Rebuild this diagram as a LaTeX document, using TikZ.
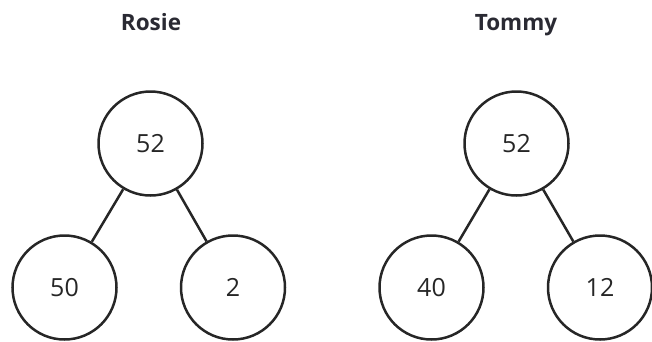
\documentclass[tikz,border=0pt]{standalone}
\usepackage{fontspec}
\setmainfont{Open Sans}
\definecolor{ink}{HTML}{262626}
\definecolor{title}{HTML}{2A2A33}
\begin{document}
\begin{tikzpicture}[x=1pt,y=-1pt,
  bond/.style={circle,draw=ink,line width=2.5pt,minimum size=104pt,inner sep=0pt,
    font=\fontsize{25}{29}\selectfont,text=ink},
  link/.style={draw=ink,line width=2.5pt},
  heading/.style={font=\bfseries\fontsize{22.5}{26}\selectfont,text=title,anchor=base}]
  \useasboundingbox (0,0) rectangle (652,341);

  % Rosie's part-whole model
  \node[heading] (rosie) at (151,30) {Rosie};
  \node[bond] (r0) at (150.5,143.5) {52};
  \node[bond] (r1) at (64.5,287.5) {50};
  \node[bond] (r2) at (233,287.5) {2};
  \draw[link] (r0) -- (r1);
  \draw[link] (r0) -- (r2);

  % Tommy's part-whole model
  \node[heading] (tommy) at (516,30) {Tommy};
  \node[bond] (t0) at (516.5,143.5) {52};
  \node[bond] (t1) at (431.5,287.5) {40};
  \node[bond] (t2) at (600,287.5) {12};
  \draw[link] (t0) -- (t1);
  \draw[link] (t0) -- (t2);
\end{tikzpicture}
\end{document}
